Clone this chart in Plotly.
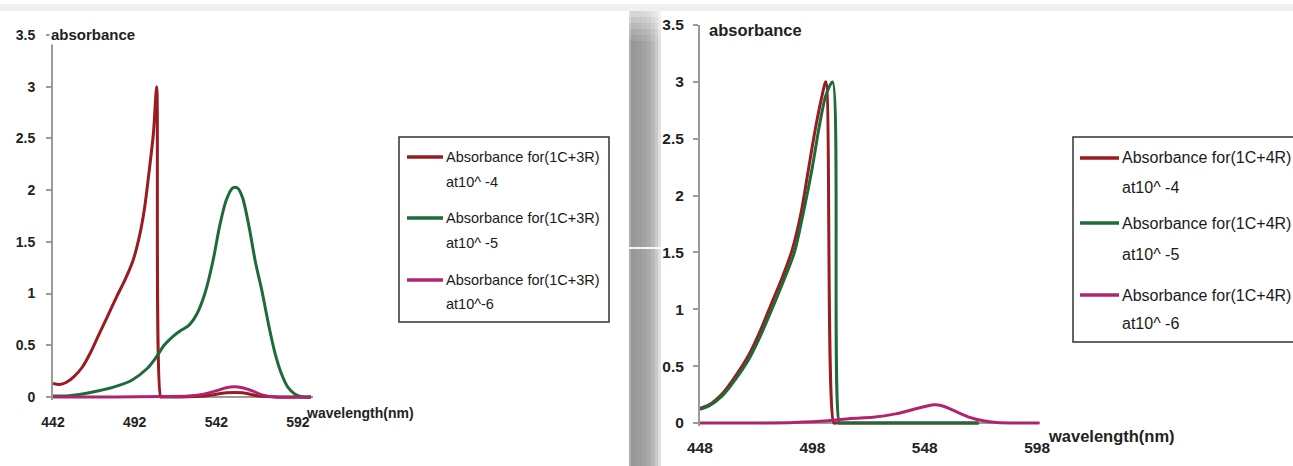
import plotly.graph_objects as go

W, H = 1293, 466

# ---------------- data ----------------
# Left panel: (1C+3R)
left_x_ticks = [442, 492, 542, 592]
left_red_x = [442, 446, 450, 455, 460, 465, 470, 476, 481, 486, 491, 495, 498, 501, 503.5, 505.5, 508, 509, 520, 535, 548, 558, 568, 580, 600]
left_red_y = [0.13, 0.12, 0.14, 0.2, 0.29, 0.43, 0.6, 0.8, 0.97, 1.13, 1.32, 1.56, 1.82, 2.2, 2.55, 3.0, 0.0, 0.0, 0.0, 0.01, 0.04, 0.04, 0.01, 0.0, 0.0]
left_green_x = [442, 450, 460, 470, 480, 490, 500, 505, 510, 515, 520, 525, 530, 535, 540, 544, 548, 552, 555, 558, 562, 566, 570, 574, 578, 582, 586, 590, 595, 600]
left_green_y = [0.01, 0.01, 0.03, 0.06, 0.1, 0.16, 0.28, 0.38, 0.5, 0.58, 0.64, 0.69, 0.8, 1.0, 1.32, 1.65, 1.9, 2.02, 2.02, 1.93, 1.65, 1.3, 1.02, 0.7, 0.42, 0.22, 0.09, 0.03, 0.0, 0.0]
left_mag_x = [442, 480, 510, 525, 535, 542, 548, 553, 558, 564, 570, 578, 600]
left_mag_y = [0.0, 0.0, 0.005, 0.01, 0.03, 0.06, 0.09, 0.1, 0.09, 0.06, 0.02, 0.0, 0.0]
left_leg_line1 = ["Absorbance for(1C+3R)", "Absorbance for(1C+3R)", "Absorbance for(1C+3R)"]
left_leg_line2 = ["at10^ -4", "at10^ -5", "at10^-6"]

# Right panel: (1C+4R)
right_x_ticks = [448, 498, 548, 598]
right_red_x = [448, 452, 458, 464, 470, 475, 480, 485, 489, 493, 496, 499, 502, 504, 507.5, 508.5, 520, 540, 560, 572]
right_red_y = [0.13, 0.16, 0.26, 0.42, 0.61, 0.82, 1.06, 1.3, 1.52, 1.85, 2.2, 2.55, 2.85, 3.0, 0.0, 0.0, 0.0, 0.0, 0.0, 0.0]
right_green_x = [448, 452, 458, 464, 470, 475, 480, 485, 490, 494, 498, 501, 504, 507, 510, 511, 530, 550, 572]
right_green_y = [0.12, 0.15, 0.24, 0.39, 0.57, 0.77, 1.0, 1.24, 1.5, 1.85, 2.25, 2.6, 2.88, 3.0, 0.0, 0.0, 0.0, 0.0, 0.0]
right_mag_x = [448, 470, 490, 505, 515, 525, 535, 545, 552, 556, 562, 568, 574, 580, 590, 599]
right_mag_y = [0.0, 0.0, 0.005, 0.02, 0.04, 0.05, 0.08, 0.13, 0.16, 0.15, 0.1, 0.05, 0.02, 0.005, 0.0, 0.0]
right_leg_line1 = ["Absorbance for(1C+4R)", "Absorbance for(1C+4R)", "Absorbance for(1C+4R)"]
right_leg_line2 = ["at10^ -4", "at10^ -5", "at10^ -6"]

y_ticks = [0, 0.5, 1, 1.5, 2, 2.5, 3, 3.5]
y_tick_text = ["0", "0.5", "1", "1.5", "2", "2.5", "3", "3.5"]

colors = ["#9a1b20", "#1e6b3a", "#b0246e"]

# ---------------- figure ----------------
def px(x):
    return x / W

def py(y):
    return 1 - y / H

fig = go.Figure()

left_series = [(left_red_x, left_red_y), (left_green_x, left_green_y), (left_mag_x, left_mag_y)]
right_series = [(right_red_x, right_red_y), (right_green_x, right_green_y), (right_mag_x, right_mag_y)]

for (xs, ys), c, n in zip(left_series, colors, left_leg_line1):
    fig.add_trace(go.Scatter(x=xs, y=ys, mode="lines", name=n,
                             line=dict(color=c, width=3, shape="spline", smoothing=0.8),
                             xaxis="x", yaxis="y", showlegend=False))
for (xs, ys), c, n in zip(right_series, colors, right_leg_line1):
    fig.add_trace(go.Scatter(x=xs, y=ys, mode="lines", name=n,
                             line=dict(color=c, width=3, shape="spline", smoothing=0.8),
                             xaxis="x2", yaxis="y2", showlegend=False))

tick_font_l = dict(family="Liberation Sans", size=14, color="#222222", weight="bold")
tick_font_r = dict(family="Liberation Sans", size=15.5, color="#222222", weight="bold")

ymin = -0.03
fig.update_layout(
    template="none",
    width=W, height=H, autosize=False,
    margin=dict(l=0, r=0, t=0, b=0, pad=0),
    paper_bgcolor="white", plot_bgcolor="white",
    xaxis=dict(domain=[px(53), px(313)], range=[442, 601.2], anchor="y", automargin=False,
               tickvals=left_x_ticks, ticktext=[str(v) for v in left_x_ticks],
               showline=False, showgrid=False, zeroline=False, ticks="",
               tickfont=tick_font_l, ticklabelstandoff=12),
    yaxis=dict(domain=[py(397 + 0.03 * 103.4), py(35)], range=[ymin, 3.5], anchor="x", automargin=False,
               tickvals=y_ticks, ticktext=y_tick_text,
               showline=True, linecolor="#9a9a9a", linewidth=2, showgrid=False,
               zeroline=True, zerolinecolor="#9a9a9a", zerolinewidth=2,
               ticks="outside", ticklen=5, tickcolor="#9a9a9a", tickwidth=2,
               tickfont=tick_font_l, ticklabelstandoff=8),
    xaxis2=dict(domain=[px(700), px(1040)], range=[448, 599.3], anchor="y2", automargin=False,
                tickvals=right_x_ticks, ticktext=[str(v) for v in right_x_ticks],
                showline=False, showgrid=False, zeroline=False, ticks="",
                tickfont=tick_font_r, ticklabelstandoff=10),
    yaxis2=dict(domain=[py(423 + 0.03 * 113.7), py(25)], range=[ymin, 3.5], anchor="x2", automargin=False,
                tickvals=y_ticks, ticktext=y_tick_text,
                showline=True, linecolor="#9a9a9a", linewidth=2, showgrid=False,
                zeroline=True, zerolinecolor="#9a9a9a", zerolinewidth=2,
                ticks="outside", ticklen=5, tickcolor="#9a9a9a", tickwidth=2,
                tickfont=tick_font_r, ticklabelstandoff=6),
)

shapes = []
annotations = []

# top light strip
shapes.append(dict(type="rect", xref="paper", yref="paper", x0=0, x1=1, y0=py(11), y1=py(4),
                   fillcolor="#f0f0f0", line=dict(width=0), layer="below"))

# divider band between the two screenshots
strips = [(629, 631, "#b0b0b0"), (631, 636, "#979797"), (636, 642, "#9c9c9c"), (642, 647, "#a3a3a3"),
          (647, 651, "#ababab"), (651, 655, "#b8b8b8"), (655, 658, "#c9c9c9"), (658, 661, "#e0e0e0")]
for x0, x1, col in strips:
    shapes.append(dict(type="rect", xref="paper", yref="paper", x0=px(x0), x1=px(x1),
                       y0=0, y1=py(11), fillcolor=col, line=dict(width=0), layer="above"))
for i, op in enumerate([0.6, 0.45, 0.32, 0.2, 0.1]):
    shapes.append(dict(type="rect", xref="paper", yref="paper", x0=px(629), x1=px(661),
                       y0=py(11 + 6 * (i + 1)), y1=py(11 + 6 * i), fillcolor="white",
                       opacity=op, line=dict(width=0), layer="above"))
shapes.append(dict(type="rect", xref="paper", yref="paper", x0=px(600), x1=px(661),
                   y0=py(249), y1=py(247), fillcolor="white", opacity=0.9,
                   line=dict(width=0), layer="above"))

# axis titles
annotations.append(dict(text="<b>absorbance</b>", xref="paper", yref="paper", x=px(49), y=py(35),
                        xanchor="left", yanchor="middle", showarrow=False, bgcolor="white",
                        font=dict(family="Liberation Sans", size=15, color="#222222")))
annotations.append(dict(text="<b>wavelength(nm)</b>", xref="paper", yref="paper", x=px(304), y=py(413),
                        xanchor="left", yanchor="middle", showarrow=False,
                        font=dict(family="Liberation Sans", size=14, color="#222222")))
annotations.append(dict(text="<b>absorbance</b>", xref="paper", yref="paper", x=px(707), y=py(30),
                        xanchor="left", yanchor="middle", showarrow=False,
                        font=dict(family="Liberation Sans", size=16.5, color="#222222")))
annotations.append(dict(text="<b>wavelength(nm)</b>", xref="paper", yref="paper", x=px(1046), y=py(436),
                        xanchor="left", yanchor="middle", showarrow=False,
                        font=dict(family="Liberation Sans", size=16.5, color="#222222")))

# legends (drawn as boxes, sample lines and text)
def add_legend(box, sample_x, text_x, rows1, rows2, l1, l2, size):
    bx0, by0, bx1, by1 = box
    shapes.append(dict(type="rect", xref="paper", yref="paper", x0=px(bx0), x1=px(bx1),
                       y0=py(by1), y1=py(by0), fillcolor="white",
                       line=dict(color="#333333", width=1.5), layer="above"))
    for i in range(3):
        shapes.append(dict(type="line", xref="paper", yref="paper", x0=px(sample_x[0]), x1=px(sample_x[1]),
                           y0=py(rows1[i]), y1=py(rows1[i]), line=dict(color=colors[i], width=3.5),
                           layer="above"))
        annotations.append(dict(text=l1[i], xref="paper", yref="paper", x=px(text_x), y=py(rows1[i]),
                                xanchor="left", yanchor="middle", showarrow=False,
                                font=dict(family="Liberation Sans", size=size, color="#1a1a1a")))
        annotations.append(dict(text=l2[i], xref="paper", yref="paper", x=px(text_x), y=py(rows2[i]),
                                xanchor="left", yanchor="middle", showarrow=False,
                                font=dict(family="Liberation Sans", size=size, color="#1a1a1a")))

add_legend((399, 137, 609, 322), (407, 443), 444, [157, 218, 280], [182, 243, 304],
           left_leg_line1, left_leg_line2, 14.5)
add_legend((1073, 137, 1310, 342), (1080, 1119), 1120, [158, 223, 295], [187, 254, 323],
           right_leg_line1, right_leg_line2, 16)

fig.update_layout(shapes=shapes, annotations=annotations)

fig.write_html("out.html")
